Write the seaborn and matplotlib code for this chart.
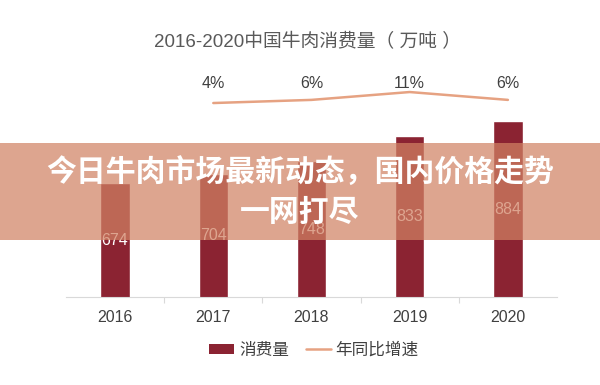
import matplotlib
matplotlib.use('Agg')
import matplotlib.pyplot as plt
import seaborn as sns
import pandas as pd
from matplotlib.patches import Rectangle
from matplotlib.lines import Line2D

# ---- data ----
years = ['2016', '2017', '2018', '2019', '2020']
consumption = [674, 704, 748, 833, 884]
growth_years = ['2017', '2018', '2019', '2020']
growth = [4, 6, 11, 6]
growth_labels = ['4%', '6%', '11%', '6%']
title = '2016-2020中国牛肉消费量（ 万吨 ）'
banner_lines = ['今日牛肉市场最新动态，国内价格走势', '一网打尽']
legend_labels = ['消费量', '年同比增速']

BAR = '#8b2332'
LINE = '#e6a282'
TXT = '#404040'

sns.set_theme(style='white')
plt.rcParams['font.family'] = ['Liberation Sans', 'Noto Sans CJK SC', 'DejaVu Sans']

W, H = 600, 385
fig = plt.figure(figsize=(W / 100, H / 100), dpi=100)
fig.patch.set_facecolor('white')

ax_top_px, ax_bot_px = 60, 297
ax = fig.add_axes([66 / W, 1 - ax_bot_px / H, (557 - 66) / W, (ax_bot_px - ax_top_px) / H])
ax.set_facecolor('none')

df = pd.DataFrame({'year': years, 'value': consumption})
sns.barplot(data=df, x='year', y='value', color=BAR, width=0.3, saturation=1, ax=ax)
ymin = 288
ax.set_ylim(ymin, ymin + (ax_bot_px - ax_top_px) / 0.295)
ax.set_xlim(-0.5, len(years) - 0.5)

for i, v in enumerate(consumption):
    ax.text(i, (ymin + v) / 2, str(v), ha='center', va='center', fontsize=11.5, color='white')

for s in ['top', 'left', 'right']:
    ax.spines[s].set_visible(False)
ax.spines['bottom'].set_color('#d9d9d9')
ax.spines['bottom'].set_linewidth(0.8)
ax.set_yticks([])
ax.set_xlabel('')
ax.set_ylabel('')
ax.set_xticks([i + 0.5 for i in range(len(years) - 1)], minor=True)
ax.tick_params(axis='x', which='major', length=0, pad=9, labelsize=11.5, labelcolor=TXT)
ax.tick_params(axis='x', which='minor', length=4, width=0.8, color='#d9d9d9', direction='out', bottom=True)

ax2 = ax.twinx()
pos = [years.index(y) for y in growth_years]
sns.lineplot(x=pos, y=growth, ax=ax2, color=LINE, linewidth=1.8)
ax2.set_ylim(-119.5, 31.4)
ax2.set_xlim(-0.5, len(years) - 0.5)
for s in ax2.spines.values():
    s.set_visible(False)
ax2.set_yticks([])
ax2.set_ylabel('')
for p, lab in zip(pos, growth_labels):
    ax2.annotate(lab, xy=(p, 0.899), xycoords=('data', 'axes fraction'),
                 ha='center', va='center', fontsize=11.5, color=TXT)

fig.text(308 / W, 1 - 42 / H, title, ha='center', va='center', fontsize=13.5, color='#595959')

handles = [Rectangle((0, 0), 1, 1, facecolor=BAR, edgecolor='none'),
           Line2D([0], [0], color=LINE, linewidth=1.8)]
leg = fig.legend(handles, legend_labels, loc='center', bbox_to_anchor=(314 / W, 1 - 350 / H),
                 ncol=2, frameon=False, fontsize=12, handlelength=1.5, handleheight=0.5,
                 handletextpad=0.3, columnspacing=1.0)
for t in leg.get_texts():
    t.set_color(TXT)

fig.add_artist(Rectangle((0, 1 - 240 / H), 1, 97 / H, transform=fig.transFigure,
                         facecolor=(209 / 255, 130 / 255, 100 / 255), alpha=0.72,
                         edgecolor='none', zorder=5))
fig.text(0.5, 1 - 173 / H, banner_lines[0], ha='center', va='center', fontsize=21.5,
         color='white', fontweight='heavy', family=['Noto Sans CJK SC'], zorder=6)
fig.text(0.5, 1 - 212 / H, banner_lines[1], ha='center', va='center', fontsize=21.5,
         color='white', fontweight='heavy', family=['Noto Sans CJK SC'], zorder=6)

fig.savefig('out.png', dpi=100)
